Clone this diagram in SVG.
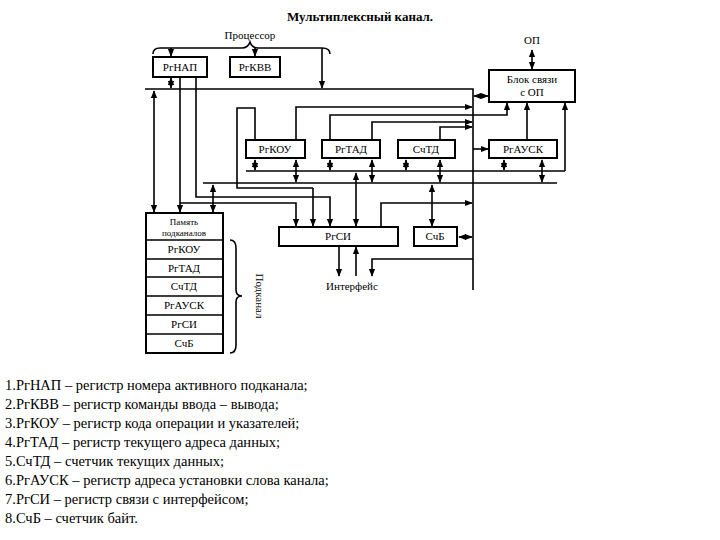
<svg xmlns="http://www.w3.org/2000/svg" width="720" height="540" viewBox="0 0 720 540" font-family="'Liberation Serif','DejaVu Serif',serif">
<defs>
<marker id="a" viewBox="0 0 10 10" refX="9" refY="5" markerWidth="5" markerHeight="5" orient="auto-start-reverse"><path d="M0,1 L10,5 L0,9 z" fill="#000"/></marker>
<style>
.b{fill:#fff;stroke:#000;stroke-width:2}
.l{fill:none;stroke:#000;stroke-width:1.6}
.ar{fill:none;stroke:#000;stroke-width:1.6;marker-end:url(#a)}
.da{fill:none;stroke:#000;stroke-width:1.6;marker-end:url(#a);marker-start:url(#a)}
text{font-family:'Liberation Serif','DejaVu Serif',serif;font-size:11px;text-anchor:middle}
.lg{font-size:14.5px;text-anchor:start}
</style>
</defs>
<rect width="720" height="540" fill="#fff"/>
<text x="360" y="21" style="font-size:13px;font-weight:bold">Мультиплексный канал.</text>
<text x="250" y="39">Процессор</text>
<path class="l" stroke-width="1" d="M153,54 Q153,48 160,48 L242,48 Q248,48 250,42 Q252,48 258,48 L322,48 Q330,48 330,54"/>
<text x="532" y="44">ОП</text>
<g id="n1"><rect class="b" x="153" y="57" width="54" height="20"/><text x="180" y="71">РгНАП</text></g>
<g id="n2"><rect class="b" x="230" y="57" width="50" height="20"/><text x="255" y="71">РгКВВ</text></g>
<g id="n3"><rect class="b" x="489" y="70" width="86" height="32"/><text x="532" y="83">Блок связи</text><text x="532" y="96">с ОП</text></g>
<g id="n4"><rect class="b" x="246" y="140" width="59" height="18"/><text x="275" y="153">РгКОУ</text></g>
<g id="n5"><rect class="b" x="322" y="140" width="58" height="18"/><text x="351" y="153">РгТАД</text></g>
<g id="n6"><rect class="b" x="398" y="140" width="57" height="18"/><text x="426" y="153">СчТД</text></g>
<g id="n7"><rect class="b" x="489" y="140" width="68" height="18"/><text x="523" y="153">РгАУСК</text></g>
<g id="n8"><rect class="b" x="279" y="227" width="119" height="19"/><text x="338" y="240">РгСИ</text></g>
<g id="n9"><rect class="b" x="414" y="227" width="43" height="19"/><text x="435" y="240">СчБ</text></g>
<g id="mem">
<rect class="b" x="146" y="213" width="77" height="140"/>
<path class="l" d="M146,240H223M146,259H223M146,277H223M146,296H223M146,315H223M146,334H223"/>
<text x="184" y="225" style="font-size:9px">Память</text><text x="184" y="236" style="font-size:9px">подканалов</text>
<text x="184" y="253">РгКОУ</text><text x="184" y="272">РгТАД</text><text x="184" y="290">СчТД</text>
<text x="184" y="309">РгАУСК</text><text x="184" y="328">РгСИ</text><text x="184" y="347">СчБ</text>
<path class="l" stroke-width="1" d="M230,240 Q236,240 236,248 L236,290 Q236,296 242,296 Q236,296 236,302 L236,345 Q236,353 230,353"/>
<text transform="translate(256,296) rotate(90)">Подканал</text>
</g>
<text x="352" y="290">Интерфейс</text>
<g id="connectors">
<path class="da" d="M532,50V69"/>
<path class="ar" d="M171,48V56"/><path class="ar" d="M255,48V56"/>
<path class="ar" d="M322,48V88"/>
<path class="l" d="M145,89H473V290"/>
<path class="da" d="M171,78V88"/>
<path class="da" d="M474,96H488"/>
<path class="da" d="M154,91V212"/>
<path class="ar" d="M180,77V212"/>
<path class="ar" d="M196,77V197H330V226"/>
<path class="l" d="M203,183H557"/>
<path class="da" d="M213,185V212"/>
<path class="l" d="M246,171H565"/><path class="ar" d="M565,171V103"/>
<path class="l" d="M255,139V108H237V188H313"/><path class="ar" d="M313,188V226"/>
<path class="ar" d="M296,139V107H472"/>
<path class="ar" d="M330,139V115H507V103"/>
<path class="ar" d="M372,139V122H472"/>
<path class="ar" d="M440,139V127H472"/>
<path class="ar" d="M473,149H488"/>
<path class="ar" d="M527,139V103"/>
<path class="da" d="M255,160V170"/><path class="da" d="M296,160V182"/>
<path class="da" d="M330,160V170"/><path class="da" d="M372,160V182"/>
<path class="da" d="M406,160V170"/><path class="da" d="M440,160V182"/>
<path class="da" d="M504,160V170"/><path class="da" d="M542,160V182"/>
<path class="da" d="M356,173V226"/>
<path class="da" d="M432,185V226"/>
<path class="ar" d="M180,203H296V226"/>
<path class="ar" d="M381,226V203H472"/>
<path class="da" d="M459,237H472"/>
<path class="ar" d="M339,246V276"/><path class="ar" d="M356,276V247"/>
<path class="ar" d="M473,259H372V276"/>
</g>
<text class="lg" x="5" y="390">1.РгНАП – регистр номера активного подканала;</text>
<text class="lg" x="5" y="409">2.РгКВВ – регистр команды ввода – вывода;</text>
<text class="lg" x="5" y="428">3.РгКОУ – регистр кода операции и указателей;</text>
<text class="lg" x="5" y="447">4.РгТАД – регистр текущего адреса данных;</text>
<text class="lg" x="5" y="466">5.СчТД – счетчик текущих данных;</text>
<text class="lg" x="5" y="485">6.РгАУСК – регистр адреса установки слова канала;</text>
<text class="lg" x="5" y="504">7.РгСИ – регистр связи с интерфейсом;</text>
<text class="lg" x="5" y="523">8.СчБ – счетчик байт.</text>
</svg>
